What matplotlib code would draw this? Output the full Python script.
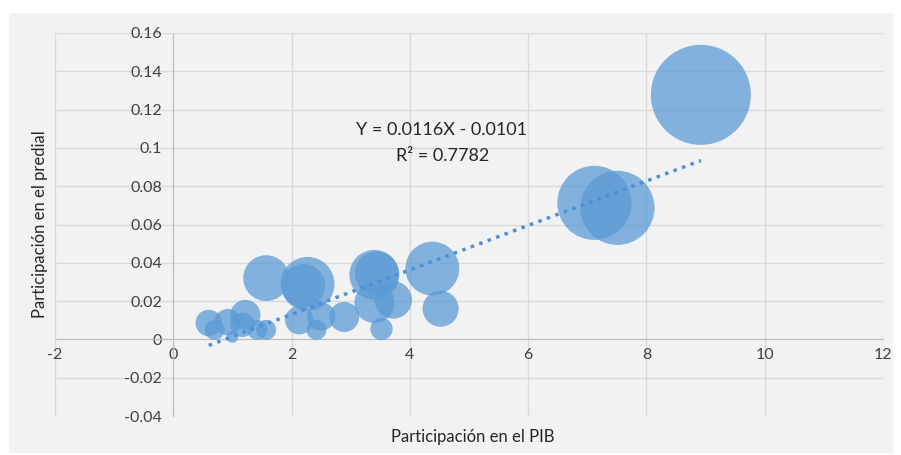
import numpy as np
import matplotlib
matplotlib.use('Agg')
import matplotlib.pyplot as plt
from matplotlib.patches import Rectangle

# datos (participacion en PIB, participacion en predial, tamano de burbuja)
pib = [8.92, 7.12, 7.51, 4.38, 3.40, 3.44, 1.57, 2.27, 2.20, 3.72, 3.40, 4.52, 2.89,
       2.13, 2.42, 3.52, 0.60, 0.70, 0.92, 1.22, 1.17, 1.42, 1.57, 1.00, 2.50]
predial = [0.1277, 0.0713, 0.0687, 0.0370, 0.0337, 0.0345, 0.0320, 0.0290, 0.0280,
           0.0206, 0.0190, 0.0160, 0.0117, 0.0100, 0.0050, 0.0055, 0.0086, 0.0050,
           0.0090, 0.0128, 0.0076, 0.0050, 0.0050, 0.0013, 0.0120]
tamano = [100, 55, 55, 29, 25, 19, 21, 29, 19, 14, 16, 13, 9,
          8, 4, 5, 7, 4, 7, 9, 6, 4, 4, 1.4, 8]

# tendencia lineal indicada en el grafico
pendiente = 0.0116
intercepto = -0.0101
ecuacion = 'Y = 0.0116X - 0.0101'
r2_texto = 'R² = 0.7782'

x_ticks = [-2, 0, 2, 4, 6, 8, 10, 12]
y_ticks = [-0.04, -0.02, 0, 0.02, 0.04, 0.06, 0.08, 0.1, 0.12, 0.14, 0.16]
y_tick_labels = ['-0.04', '-0.02', '0', '0.02', '0.04', '0.06', '0.08', '0.1', '0.12', '0.14', '0.16']
x_tick_labels = ['-2', '0', '2', '4', '6', '8', '10', '12']

plt.rcParams['font.family'] = ['Lato', 'DejaVu Sans']
plt.rcParams['axes.unicode_minus'] = False

W, H = 901, 455
fig = plt.figure(figsize=(W / 100, H / 100), dpi=100, facecolor='white')
panel = '#f2f2f2'
fig.patches.append(Rectangle((9 / W, 1 - 453 / H), (893 - 9) / W, (453 - 13) / H,
                             transform=fig.transFigure, facecolor=panel,
                             edgecolor='none', zorder=-10))

ax = fig.add_axes([55 / W, 1 - 416 / H, (883 - 55) / W, (416 - 33) / H])
ax.set_facecolor(panel)
ax.set_xlim(-2, 12)
ax.set_ylim(-0.04, 0.16)
ax.set_xticks(x_ticks)
ax.set_xticklabels(x_tick_labels)
ax.set_yticks(y_ticks)
ax.set_yticklabels(y_tick_labels)
ax.grid(True, color='#d9d9d9', linewidth=1)
ax.set_axisbelow(True)

for s in ['top', 'right']:
    ax.spines[s].set_visible(False)
ax.spines['left'].set_position(('data', 0))
ax.spines['bottom'].set_position(('data', 0))
ax.spines['left'].set_color('#bfbfbf')
ax.spines['bottom'].set_color('#bfbfbf')
ax.tick_params(length=0, labelsize=11.5, colors='#404040', pad=6)
ax.tick_params(axis='y', pad=8)

# burbujas
escala = 51.84
ax.scatter(pib, predial, s=np.array(tamano) * escala, color='#5b9bd5', alpha=0.75,
           edgecolors='none', zorder=3)

# linea de tendencia
xt = np.array([min(pib), max(pib)])
ax.plot(xt, pendiente * xt + intercepto, linestyle=(0, (1, 1.6)), color='#4a8fd8',
        linewidth=2.5, zorder=4)

ax.text(4.53, 0.1094, ecuacion, ha='center', va='center', fontsize=13, color='#262626')
ax.text(4.55, 0.0960, r2_texto, ha='center', va='center', fontsize=13, color='#262626')

fig.text(473 / W, 1 - 437 / H, 'Participación en el PIB', ha='center', va='center',
         fontsize=12, color='#262626')
fig.text(40 / W, 1 - 224 / H, 'Participación en el predial', ha='center', va='center',
         rotation=90, fontsize=12, color='#262626')

fig.savefig('out.png', dpi=100, facecolor='white')
